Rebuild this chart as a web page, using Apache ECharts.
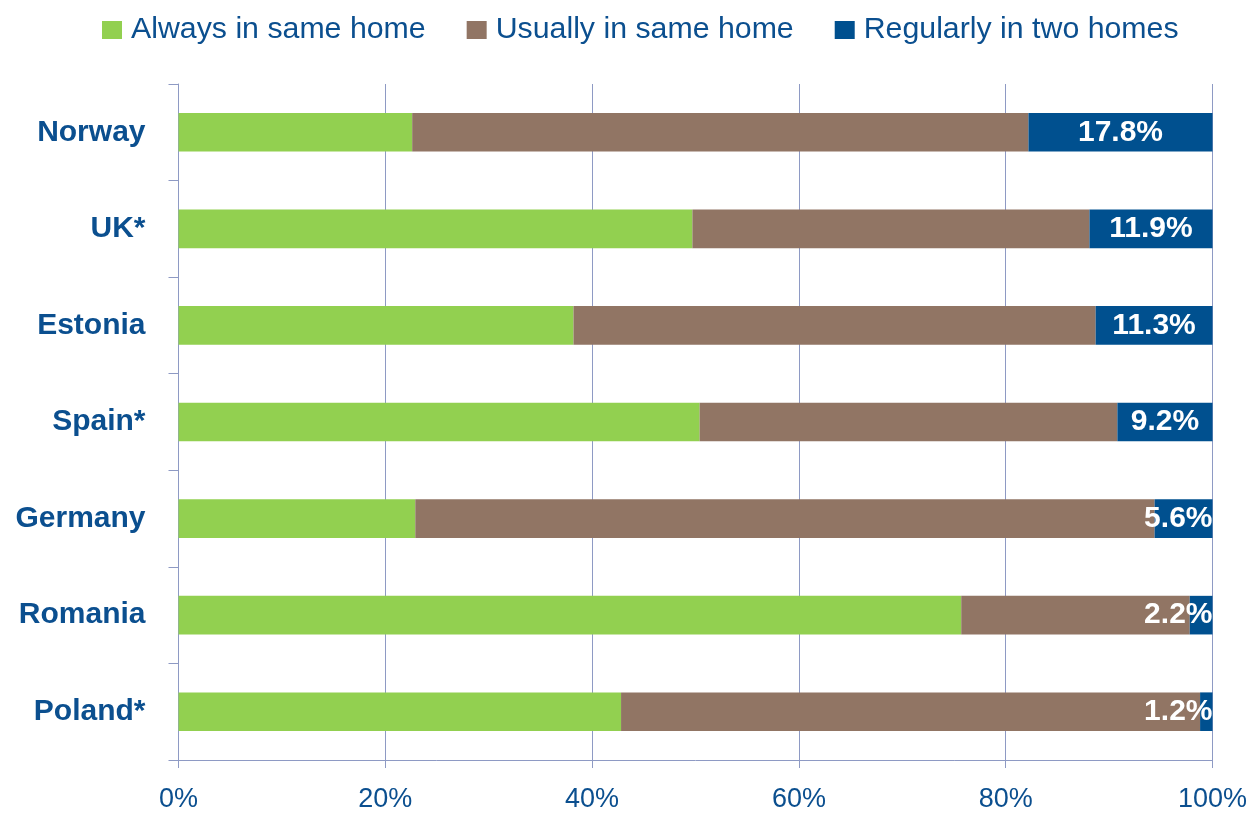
<!DOCTYPE html>
<html><head><meta charset="utf-8">
<script src="https://cdn.jsdelivr.net/npm/echarts@6/dist/echarts.min.js"></script>
<style>html,body{margin:0;padding:0;background:#fff}#c{width:1251px;height:815px}</style>
</head><body><div id="c"></div>
<script>
const categories = ['Norway','UK*','Estonia','Spain*','Germany','Romania','Poland*'];
const always = [22.6, 49.7, 38.2, 50.4, 22.9, 75.7, 42.8];
const usually = [59.6, 38.4, 50.5, 40.4, 71.5, 22.1, 56.0];
const twoHomes = [17.8, 11.9, 11.3, 9.2, 5.6, 2.2, 1.2];
const seriesNames = ['Always in same home','Usually in same home','Regularly in two homes'];
const xTicks = [0,20,40,60,80,100];

const FONT = "'Liberation Sans',Arial,sans-serif";
const TXT = '#0b4f8f';
const chart = echarts.init(document.getElementById('c'), null, {renderer:'canvas'});
chart.setOption({
  animation:false,
  legend:{top:10,left:97,itemWidth:20,itemHeight:18,itemGap:41,
    icon:'rect',
    textStyle:{fontFamily:FONT,fontSize:30.3,color:TXT,padding:[0,0,0,4]},
    data:seriesNames},
  grid:{left:178.5,right:38.5,top:84,bottom:55,outerBoundsMode:'none',containLabel:false},
  xAxis:{type:'value',min:xTicks[0],max:xTicks[xTicks.length-1],interval:20,
    axisLine:{show:true,lineStyle:{color:'#8e9ac4',width:1}},
    axisTick:{show:true,length:8,lineStyle:{color:'#8e9ac4'}},
    splitLine:{show:true,lineStyle:{color:'#8e9ac4',width:1}},
    axisLabel:{formatter:'{value}%',fontFamily:FONT,fontSize:27,color:TXT,margin:26}},
  yAxis:{type:'category',data:categories,inverse:true,
    axisLine:{show:true,lineStyle:{color:'#8e9ac4',width:1}},
    axisTick:{show:true,length:10,lineStyle:{color:'#8e9ac4'}},
    axisLabel:{fontFamily:FONT,fontWeight:'bold',fontSize:30,color:TXT,margin:33}},
  series:[
    {name:seriesNames[0],type:'bar',stack:'s',data:always,barWidth:'40%',itemStyle:{color:'#92d050'}},
    {name:seriesNames[1],type:'bar',stack:'s',data:usually,barWidth:'40%',itemStyle:{color:'#917564'}},
    {name:seriesNames[2],type:'bar',stack:'s',barWidth:'40%',itemStyle:{color:'#00508f'},
      data:twoHomes.map(v=>({value:v,label:v<7?{position:'insideRight',distance:0}:{position:'inside'}})),
      label:{show:true,formatter:p=>p.value.toFixed(1)+'%',color:'#fff',fontFamily:FONT,fontWeight:'bold',fontSize:30}}
  ]
});
</script></body></html>
